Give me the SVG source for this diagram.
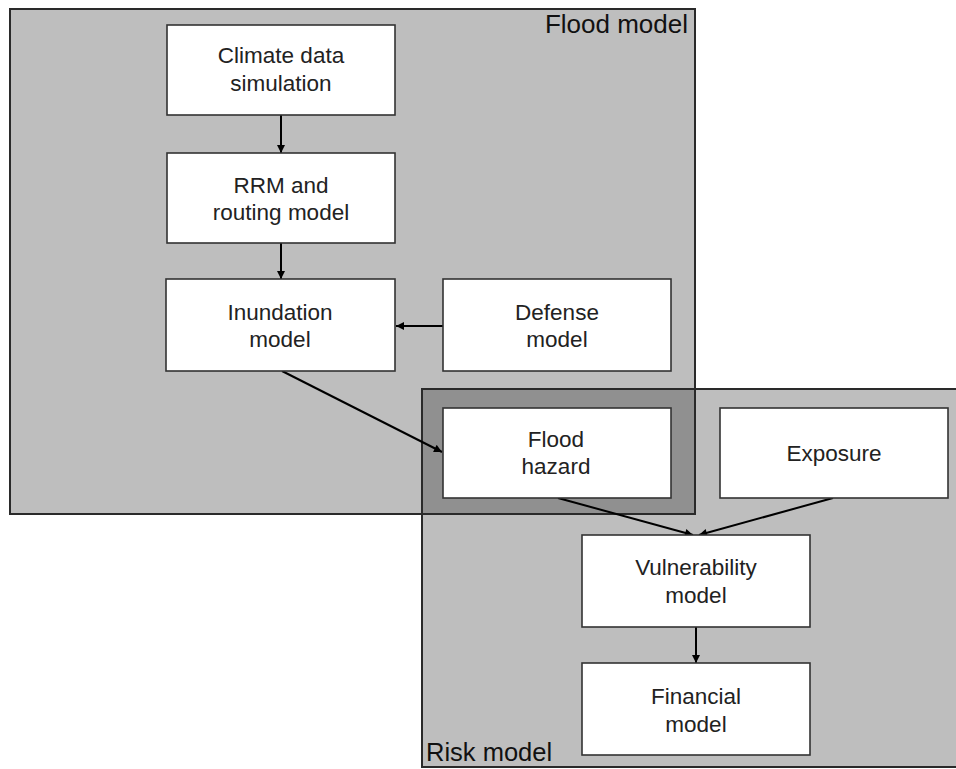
<svg xmlns="http://www.w3.org/2000/svg" width="956" height="769" viewBox="0 0 956 769">
<style>
.cont{fill:#bebebe}
.frame{fill:none;stroke:#2a2a2a;stroke-width:2}
.box{fill:#ffffff;stroke:#333333;stroke-width:1.6}
.t{font-family:"Liberation Sans",Arial,sans-serif;font-size:22.5px;fill:#222;text-anchor:middle}
.lbl{font-family:"Liberation Sans",Arial,sans-serif;font-size:26px;fill:#111}
.c{stroke:#000;stroke-width:2;fill:none;marker-end:url(#ah)}
</style>
<defs>
<marker id="ah" viewBox="0 0 10 10" refX="10" refY="5" markerWidth="9" markerHeight="8" markerUnits="userSpaceOnUse" orient="auto">
<path d="M0,0 L10,5 L0,10 Z" fill="#000"/>
</marker>
</defs>
<rect width="956" height="769" fill="#ffffff"/>
<g id="containers">
<rect class="cont" x="10" y="9" width="685" height="505"/>
<rect class="cont" x="422" y="389" width="540" height="378"/>
<rect x="422" y="389" width="273" height="125" fill="#909090"/>
<rect class="frame" x="10" y="9" width="685" height="505"/>
<rect class="frame" x="422" y="389" width="540" height="378"/>
<text class="lbl" x="688" y="33" text-anchor="end">Flood model</text>
<text class="lbl" x="426" y="761" style="font-size:25.5px">Risk model</text>
</g>
<g id="connectors">
<line class="c" x1="281" y1="115" x2="281" y2="153"/>
<line class="c" x1="281" y1="243" x2="281" y2="279"/>
<line class="c" x1="443" y1="326" x2="396" y2="326"/>
<line class="c" x1="282" y1="371" x2="442" y2="452"/>
<line class="c" x1="558" y1="498" x2="693" y2="535"/>
<line class="c" x1="833" y1="498" x2="699" y2="535"/>
<line class="c" x1="696" y1="627" x2="696" y2="663"/>
</g>
<g id="climate">
<rect class="box" x="167" y="25" width="228" height="90"/>
<text class="t" x="281" y="63">Climate data</text>
<text class="t" x="281" y="91">simulation</text>
</g>
<g id="rrm">
<rect class="box" x="167" y="153" width="228" height="90"/>
<text class="t" x="281" y="193">RRM and</text>
<text class="t" x="281" y="220">routing model</text>
</g>
<g id="inundation">
<rect class="box" x="166" y="279" width="229" height="92"/>
<text class="t" x="280" y="320">Inundation</text>
<text class="t" x="280" y="347">model</text>
</g>
<g id="defense">
<rect class="box" x="443" y="279" width="228" height="92"/>
<text class="t" x="557" y="320">Defense</text>
<text class="t" x="557" y="347">model</text>
</g>
<g id="floodhazard">
<rect class="box" x="443" y="408" width="228" height="90"/>
<text class="t" x="556" y="447">Flood</text>
<text class="t" x="556" y="474">hazard</text>
</g>
<g id="exposure">
<rect class="box" x="720" y="408" width="228" height="90"/>
<text class="t" x="834" y="461">Exposure</text>
</g>
<g id="vulnerability">
<rect class="box" x="582" y="535" width="228" height="92"/>
<text class="t" x="696" y="575">Vulnerability</text>
<text class="t" x="696" y="603">model</text>
</g>
<g id="financial">
<rect class="box" x="582" y="663" width="228" height="92"/>
<text class="t" x="696" y="704">Financial</text>
<text class="t" x="696" y="732">model</text>
</g>
</svg>
